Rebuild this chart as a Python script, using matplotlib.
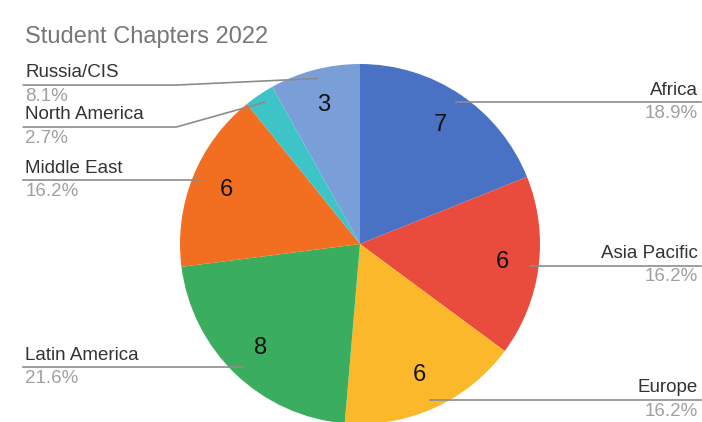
import numpy as np
import matplotlib.pyplot as plt

plt.rcParams['font.family'] = ['Liberation Sans', 'DejaVu Sans']

regions = ['Africa', 'Asia Pacific', 'Europe', 'Latin America',
           'Middle East', 'North America', 'Russia/CIS']
chapters = [7, 6, 6, 8, 6, 1, 3]
colors = ['#4a72c4', '#e94b3c', '#fbb82a', '#3aae5e',
          '#f26f21', '#3ec3c6', '#7a9fd8']

fig = plt.figure(figsize=(7.02, 4.22), dpi=100)
ax = fig.add_axes([0, 0, 1, 1])

wedges, _ = ax.pie(chapters, colors=colors, startangle=90,
                   counterclock=False, radius=1.0)
# 1 data unit = 180 px, pie centre at (360, 244) px
ax.set_aspect('auto')
ax.set_xlim(-2.0, 1.9)
ax.set_ylim(-178 / 180, 244 / 180)
ax.axis('off')

total = sum(chapters)
line_c = '#8c8c8c'
left_x, right_x = -1.86, 1.875
bend_x = -1.02
gap = 0.233
top_y = 0.883

mids = [np.deg2rad((w.theta1 + w.theta2) / 2) for w in wedges]

# left labels: push down from the top so they don't overlap
left = [i for i in range(len(chapters)) if np.cos(mids[i]) < 0]
left.sort(key=lambda i: -np.sin(mids[i]))
ly = {}
prev = top_y + gap
for i in left:
    y = min(0.95 * np.sin(mids[i]), prev - gap, top_y)
    ly[i] = y
    prev = y

for i, (name, v) in enumerate(zip(regions, chapters)):
    a = mids[i]
    ax_, ay = 0.95 * np.cos(a), 0.95 * np.sin(a)
    pct = '%.1f%%' % (100 * v / total)
    if v > 1:
        ax.text(0.8 * np.cos(a), 0.8 * np.sin(a), str(v), ha='center',
                va='center', fontsize=17, color='#111111')
    if np.cos(a) >= 0:
        ax.plot([ax_, right_x + 0.02], [ay, ay], color=line_c, lw=1.2)
        ax.text(right_x, ay + 0.02, name, ha='right', va='bottom',
                fontsize=13.5, color='#333333')
        ax.text(right_x, ay - 0.015, pct, ha='right', va='top',
                fontsize=13.5, color='#a0a0a0')
    else:
        y = ly[i]
        if abs(y - ay) > 1e-3:
            xs, ys = [ax_, bend_x, left_x - 0.01], [ay, y, y]
        else:
            xs, ys = [ax_, left_x - 0.01], [ay, ay]
        ax.plot(xs, ys, color=line_c, lw=1.2)
        ax.text(left_x, y + 0.02, name, ha='left', va='bottom',
                fontsize=13.5, color='#333333')
        ax.text(left_x, y - 0.015, pct, ha='left', va='top',
                fontsize=13.5, color='#a0a0a0')

fig.text(25 / 702, 1 - 37 / 422, 'Student Chapters 2022', ha='left',
         va='center', fontsize=17, color='#777777')

fig.savefig('out.png', dpi=100)
